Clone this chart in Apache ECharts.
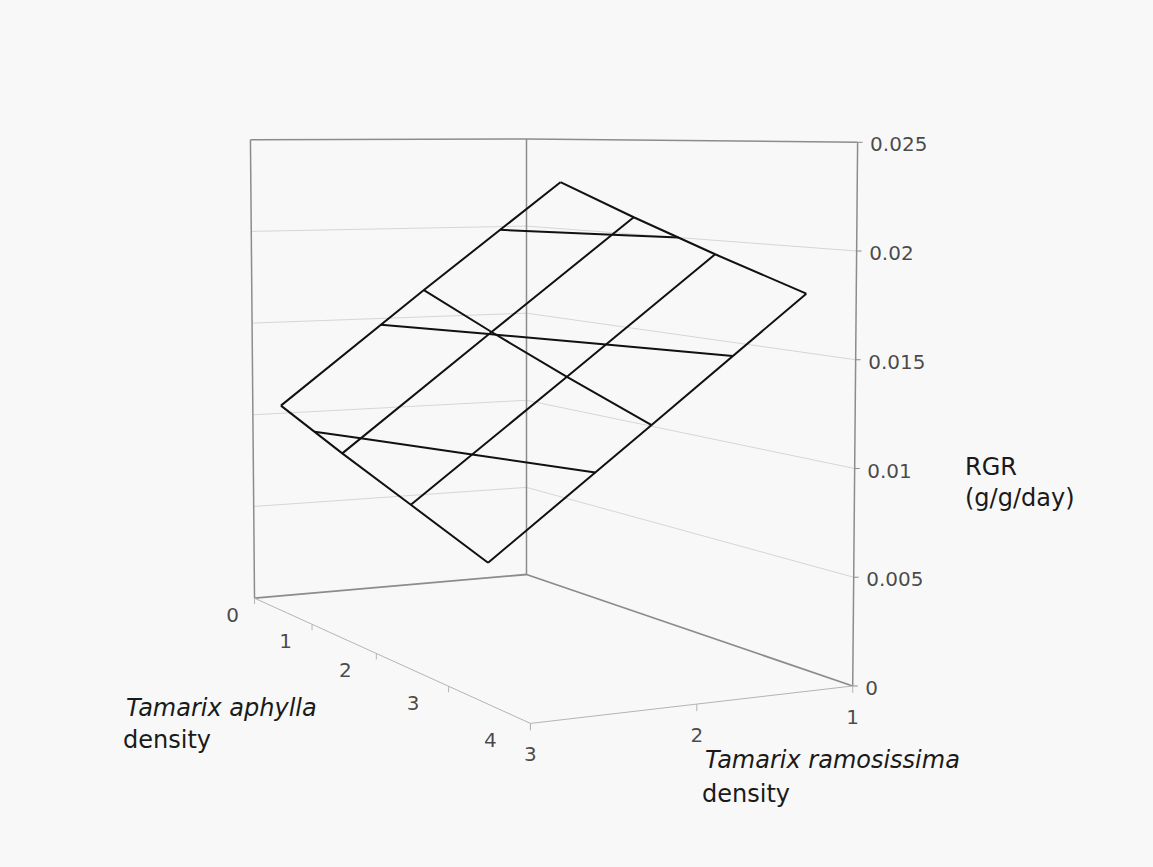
<!DOCTYPE html>
<html>
<head>
<meta charset="utf-8">
<title>RGR surface</title>
<script src="https://cdn.jsdelivr.net/npm/echarts@6/dist/echarts.min.js"></script>
<style>
    html, body { margin: 0; padding: 0; background: #f8f8f8; }
    #main { width: 1153px; height: 867px; }
</style>
</head>
<body>
<div id="main"></div>
<script>
// tick labels of the three axes
let aphyllaLabels = ['0', '1', '2', '3', '4'];
let ramosissimaLabels = ['1', '2', '3'];
let rgrTicks = [0, 0.005, 0.01, 0.015, 0.02, 0.025];

// RGR (g/g/day), one array per T. ramosissima density,
// 4 values along the T. aphylla axis (centre of each slot)
let rgrRam1 = [0.0226, 0.0209, 0.0193, 0.0178];
let rgrRam2 = [0.0168, 0.0151, 0.0135, 0.0120];
let rgrRam3 = [0.0109, 0.0093, 0.0078, 0.0063];
let surface = [rgrRam1, rgrRam2, rgrRam3];

let zMax = rgrTicks[rgrTicks.length - 1];

// simple perspective camera, fitted to the box of the original
let cam = {
    cx: 526.5, cy: 125.7, eye: 1.0305,
    hBack: 435.5, hLeft: 458.5, hRight: 543.7,
    ga: 0.600, gr: -0.5932, tilt: 0.015
};

// u: 0..1 along aphylla axis, v: 0..1 along ramosissima axis, z: RGR
function project(u, v, z) {
    let zn = z / zMax;
    let d = 1 / cam.hBack + (1 / cam.hRight - 1 / cam.hBack) * u + (1 / cam.hLeft - 1 / cam.hBack) * v;
    let h = 1 / d;
    let x = cam.cx + (cam.ga * u + cam.gr * v) * h * (1 + cam.tilt * zn);
    let y = cam.cy + (cam.eye - zn) * h;
    return [x, y];
}

let nCols = surface[0].length;
let nRows = surface.length;
function colU(i) { return (i + 0.5) / nCols; }
function rowV(j) { return j / (nRows - 1); }

let series = [];
function addLine(points, color, width, z) {
    series.push({
        type: 'line',
        data: points,
        symbol: 'none',
        silent: true,
        animation: false,
        z: z,
        lineStyle: { color: color, width: width }
    });
}

let wallDark = '#8c8c8c';
let gridLight = '#d6d6d6';
let axisLight = '#b4b4b4';

// gridlines on the back walls + ticks on the value axis
rgrTicks.forEach(function (t) {
    if (t > 0 && t < zMax) {
        addLine([project(0, 1, t), project(0, 0, t), project(1, 0, t)], gridLight, 1, 1);
    }
    let p = project(1, 0, t);
    addLine([p, [p[0] + 5, p[1]]], wallDark, 1, 1);
});

// box edges
addLine([project(0, 1, zMax), project(0, 0, zMax), project(1, 0, zMax)], wallDark, 1.5, 2);
addLine([project(0, 1, 0), project(0, 0, 0), project(1, 0, 0)], wallDark, 1.8, 2);
addLine([project(0, 1, 0), project(0, 1, zMax)], wallDark, 1.5, 2);
addLine([project(0, 0, 0), project(0, 0, zMax)], wallDark, 1.5, 2);
addLine([project(1, 0, 0), project(1, 0, zMax)], wallDark, 1.5, 2);

// floor axes with their ticks
addLine([project(0, 1, 0), project(1, 1, 0), project(1, 0, 0)], axisLight, 1, 2);
aphyllaLabels.forEach(function (lab, k) {
    let p = project(k / (aphyllaLabels.length - 1), 1, 0);
    addLine([p, [p[0], p[1] + 6]], axisLight, 1, 2);
});
ramosissimaLabels.forEach(function (lab, j) {
    let p = project(1, j / (ramosissimaLabels.length - 1), 0);
    addLine([p, [p[0], p[1] + 7]], axisLight, 1, 2);
});

// wireframe of the surface
let surfColor = '#111111';
surface.forEach(function (row, j) {
    addLine(row.map(function (val, i) { return project(colU(i), rowV(j), val); }), surfColor, 2, 5);
});
for (let i = 0; i < nCols; i++) {
    addLine(surface.map(function (row, j) { return project(colU(i), rowV(j), row[i]); }), surfColor, 2, 5);
}

// contour lines where the surface crosses the major units
let zMin = Math.min.apply(null, surface.map(function (r) { return Math.min.apply(null, r); }));
let zTop = Math.max.apply(null, surface.map(function (r) { return Math.max.apply(null, r); }));
rgrTicks.forEach(function (level) {
    if (level <= zMin || level >= zTop) return;
    for (let j = 0; j < nRows - 1; j++) {
        for (let i = 0; i < nCols - 1; i++) {
            let c = [[i, j], [i + 1, j], [i + 1, j + 1], [i, j + 1]];
            let cross = [];
            for (let e = 0; e < 4; e++) {
                let A = c[e], B = c[(e + 1) % 4];
                let za = surface[A[1]][A[0]], zb = surface[B[1]][B[0]];
                if ((za - level) * (zb - level) < 0) {
                    let t = (level - za) / (zb - za);
                    let ci = A[0] + (B[0] - A[0]) * t;
                    let cj = A[1] + (B[1] - A[1]) * t;
                    cross.push(project((ci + 0.5) / nCols, cj / (nRows - 1), level));
                }
            }
            if (cross.length == 2) {
                addLine(cross, surfColor, 2, 5);
            }
        }
    }
});

// axis labels
let textColor = '#1a1a1a';
let font = 'DejaVu Sans';
series.push({
    type: 'scatter',
    silent: true,
    animation: false,
    symbolSize: 1,
    itemStyle: { color: 'transparent' },
    label: { show: true, position: 'right', distance: 12, offset: [0, 2], color: textColor, fontSize: 20, fontFamily: font },
    data: rgrTicks.map(function (t) {
        return { value: project(1, 0, t), label: { formatter: String(t) } };
    })
});
series.push({
    type: 'scatter',
    silent: true,
    animation: false,
    symbolSize: 1,
    itemStyle: { color: 'transparent' },
    data: aphyllaLabels.map(function (lab, k) {
        return {
            value: project(k / (aphyllaLabels.length - 1), 1, 0),
            label: { show: true, position: 'inside', offset: [-22 - 4.5 * k, 17], formatter: lab, color: textColor, fontSize: 20, fontFamily: font }
        };
    })
});
series.push({
    type: 'scatter',
    silent: true,
    animation: false,
    symbolSize: 1,
    itemStyle: { color: 'transparent' },
    data: ramosissimaLabels.map(function (lab, j) {
        return {
            value: project(1, j / (ramosissimaLabels.length - 1), 0),
            label: { show: true, position: 'inside', offset: [0, 31], formatter: lab, color: textColor, fontSize: 20, fontFamily: font }
        };
    })
});

function title(x, y, text, italic) {
    return {
        type: 'text', x: x, y: y, silent: true,
        style: {
            text: text,
            font: (italic ? 'italic ' : '') + '24px "DejaVu Sans"',
            fill: textColor,
            textAlign: 'left',
            textVerticalAlign: 'middle'
        }
    };
}

var myChart = echarts.init(document.getElementById('main'), null, { renderer: 'svg' });
var option = {
    backgroundColor: '#f8f8f8',
    animation: false,
    grid: { left: 0, right: 0, top: 0, bottom: 0 },
    xAxis: { type: 'value', min: 0, max: 1153, show: false },
    yAxis: { type: 'value', min: 0, max: 867, inverse: true, show: false },
    graphic: [
        title(126, 708, 'Tamarix aphylla', true),
        title(123, 740, 'density', false),
        title(705, 760, 'Tamarix ramosissima', true),
        title(702, 794, 'density', false),
        title(965, 467, 'RGR', false),
        title(965, 498, '(g/g/day)', false)
    ],
    series: series
};
myChart.setOption(option);
</script>
</body>
</html>
